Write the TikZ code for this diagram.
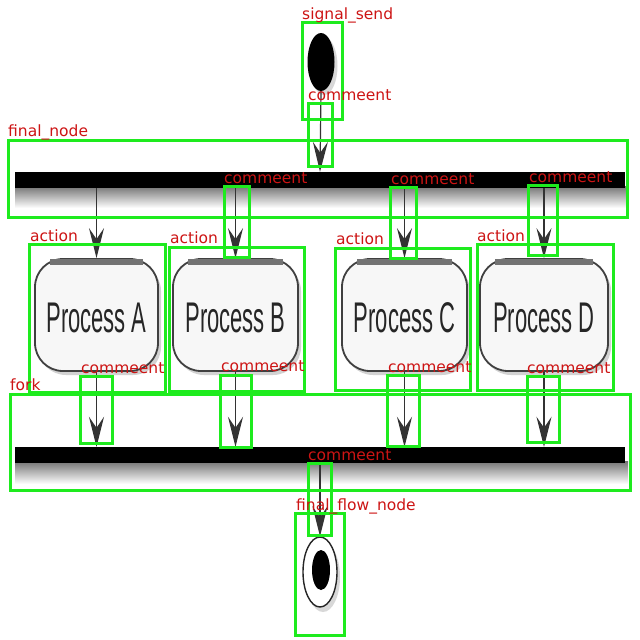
\documentclass[tikz,border=0pt]{standalone}
\usepackage{fontspec}
\setmainfont{DejaVu Sans}
\newfontfamily\procfont{Liberation Sans}
\usetikzlibrary{arrows.meta,shadows,shapes.geometric}
\definecolor{anno}{RGB}{30,235,30}
\definecolor{lab}{RGB}{205,20,20}
\begin{document}
\begin{tikzpicture}[x=1pt,y=-1pt,
  bar/.style={fill=black,minimum height=16pt,inner sep=0pt,draw=none},
  proc/.style={rectangle,rounded corners=28pt,draw=black!75,line width=1.8pt,fill=black!3,
    inner sep=0pt,minimum height=112pt,
    drop shadow={shadow xshift=3pt,shadow yshift=-4pt,fill=black!35}},
  ptext/.style={font=\procfont\fontsize{22}{24}\selectfont,text=black!85},
  flow/.style={draw=black!80,line width=1.2pt,-{Stealth[length=30pt,width=15pt,inset=11pt]}},
  annobox/.style={draw=anno,line width=3pt},
  lbl/.style={text=lab,font=\fontsize{15.5}{17}\selectfont,anchor=base west,inner sep=0pt}]
\useasboundingbox[fill=white] (0,0) rectangle (640,640);

% start node
\node[ellipse,fill=black,minimum width=27pt,minimum height=58pt,inner sep=0pt,
  drop shadow={shadow xshift=3pt,shadow yshift=-4pt,fill=black!30}] (start) at (321,62) {};

% bars with shadows
\shade[top color=black!55,bottom color=white] (15,186) rectangle (628,208);
\node[bar,minimum width=610pt] (bar1) at (320,180) {};
\shade[top color=black!55,bottom color=white] (15,461) rectangle (628,484);
\node[bar,minimum width=610pt] (bar2) at (320,455) {};

% processes
\node[proc,minimum width=123pt] (pa) at (96.5,315) {};
\node[proc,minimum width=125pt] (pb) at (235.5,315) {};
\node[proc,minimum width=125pt] (pc) at (404.5,315) {};
\node[proc,minimum width=128pt] (pd) at (544,315) {};
\foreach \p in {pa,pb,pc,pd}{
  \draw[black!55,line width=6pt] ([xshift=16pt,yshift=-4pt]\p.north west) -- ([xshift=-16pt,yshift=-4pt]\p.north east);
}
\node[ptext] at ([yshift=-3pt]pa.center) {\scalebox{1}[1.95]{Process A}};
\node[ptext] at ([yshift=-3pt]pb.center) {\scalebox{1}[1.95]{Process B}};
\node[ptext] at ([yshift=-3pt]pc.center) {\scalebox{1}[1.95]{Process C}};
\node[ptext] at ([yshift=-3pt]pd.center) {\scalebox{1}[1.95]{Process D}};

% end node
\node[ellipse,draw=black!85,line width=1.4pt,fill=white,minimum width=34pt,minimum height=70pt,inner sep=0pt,
  drop shadow={shadow xshift=3pt,shadow yshift=-5pt,fill=black!30}] (end) at (320,572) {};
\node[ellipse,fill=black,minimum width=18pt,minimum height=40pt,inner sep=0pt] (endin) at (321,570) {};

% connectors
\draw[flow] (start.south) -- (bar1.north);
\foreach \p in {pa,pb,pc,pd}{
  \draw[flow] (bar1.south -| \p.north) -- (\p.north);
  \draw[flow] (\p.south) -- (\p.south |- bar2.north);
}
\draw[flow] (bar2.south) -- (end.north);

% annotation boxes
\draw[annobox] (302,22) rectangle (342,119);
\draw[annobox] (308,103) rectangle (332,166);
\draw[annobox] (8,140) rectangle (627,217);
\draw[annobox] (224,186) rectangle (249,257);
\draw[annobox] (390,187) rectangle (416,258);
\draw[annobox] (528,185) rectangle (557,255);
\draw[annobox] (29,244) rectangle (165,392);
\draw[annobox] (169,247) rectangle (304,391);
\draw[annobox] (335,248) rectangle (470,390);
\draw[annobox] (477,244) rectangle (613,390);
\draw[annobox] (80,376) rectangle (112,443);
\draw[annobox] (220,375) rectangle (251,447);
\draw[annobox] (387,375) rectangle (419,446);
\draw[annobox] (527,376) rectangle (559,442);
\draw[annobox] (10,394) rectangle (630,490);
\draw[annobox] (308,463) rectangle (331,535);
\draw[annobox] (295,513) rectangle (344,635);

% annotation labels
\node[lbl] at (302,19) {signal\_send};
\node[lbl] at (308,100) {commeent};
\node[lbl] at (8,136) {final\_node};
\node[lbl] at (224,183) {commeent};
\node[lbl] at (391,184) {commeent};
\node[lbl] at (529,182) {commeent};
\node[lbl] at (30,241) {action};
\node[lbl] at (170,243) {action};
\node[lbl] at (336,244) {action};
\node[lbl] at (477,241) {action};
\node[lbl] at (81,373) {commeent};
\node[lbl] at (221,371) {commeent};
\node[lbl] at (388,372) {commeent};
\node[lbl] at (527,373) {commeent};
\node[lbl] at (10,390) {fork};
\node[lbl] at (308,460) {commeent};
\node[lbl] at (296,510) {final\_flow\_node};
\end{tikzpicture}
\end{document}
